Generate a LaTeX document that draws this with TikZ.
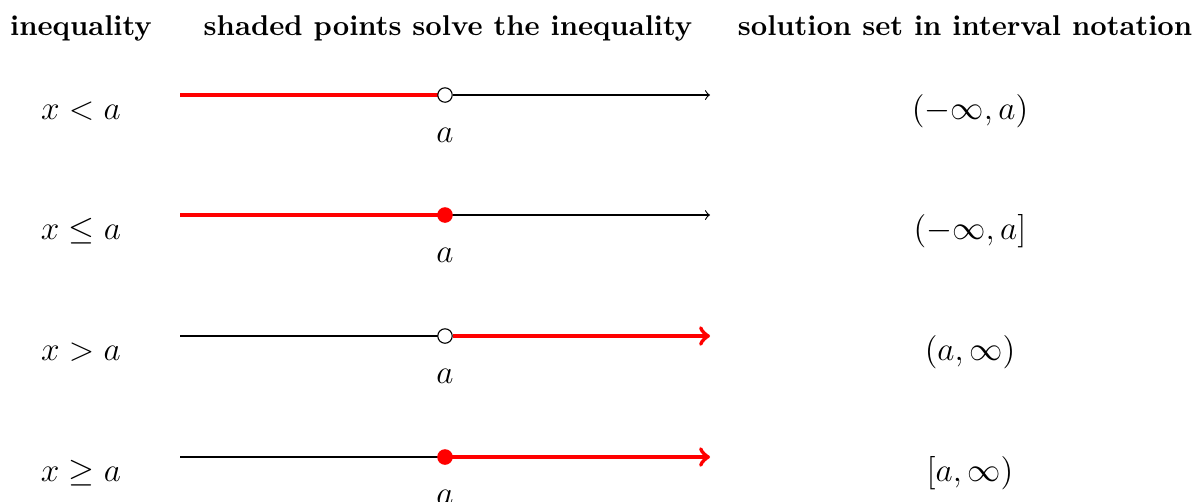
\documentclass[tikz,border=0pt]{standalone}
\begin{document}
\begin{tikzpicture}[x=0.36pt,y=-0.36pt,
  hdr/.style={font=\fontsize{10.3}{12}\selectfont\bfseries,anchor=base},
  lbl/.style={anchor=base,font=\fontsize{11.6}{14}\selectfont},
  opendot/.style={circle,draw=black,fill=white,inner sep=0pt,minimum size=5.2pt,line width=0.4pt},
  closeddot/.style={circle,draw=red,fill=red,inner sep=0pt,minimum size=5.2pt},
  axis/.style={black,line width=0.4pt},
  solline/.style={red,line width=1.5pt},
  ]
\useasboundingbox (0,0) rectangle (1197,501);
\node[hdr] (h1) at (81,35) {inequality};
\node[hdr] (h2) at (448,35) {shaded points solve the inequality};
\node[hdr] (h3) at (965,35) {solution set in interval notation};

% row 1
\coordinate (s1) at (180,95); \coordinate (e1) at (710,95);
\draw[solline] (s1) -- (445,95);
\node[opendot] (p1) at (445,95) {};
\draw[axis,->] (p1) -- (e1);
\node[lbl] (a1) at (445,142) {$a$};
\node[lbl] (i1) at (81,119) {$x<a$};
\node[lbl] (r1) at (970,119) {$(-\infty,a)$};

% row 2
\coordinate (s2) at (180,215); \coordinate (e2) at (710,215);
\draw[solline] (s2) -- (445,215);
\draw[axis,->] (445,215) -- (e2);
\node[closeddot] (p2) at (445,215) {};
\node[lbl] (a2) at (445,262) {$a$};
\node[lbl] (i2) at (81,239) {$x\le a$};
\node[lbl] (r2) at (970,239) {$(-\infty,a]$};

% row 3
\coordinate (s3) at (180,336); \coordinate (e3) at (710,336);
\draw[axis] (s3) -- (445,336);
\node[opendot] (p3) at (445,336) {};
\draw[solline,->] (p3) -- (e3);
\node[lbl] (a3) at (445,383) {$a$};
\node[lbl] (i3) at (81,360) {$x>a$};
\node[lbl] (r3) at (970,360) {$(a,\infty)$};

% row 4
\coordinate (s4) at (180,457); \coordinate (e4) at (710,457);
\draw[axis] (s4) -- (445,457);
\draw[solline,->] (445,457) -- (e4);
\node[closeddot] (p4) at (445,457) {};
\node[lbl] (a4) at (445,504) {$a$};
\node[lbl] (i4) at (81,481) {$x\ge a$};
\node[lbl] (r4) at (970,481) {$[a,\infty)$};
\end{tikzpicture}
\end{document}
